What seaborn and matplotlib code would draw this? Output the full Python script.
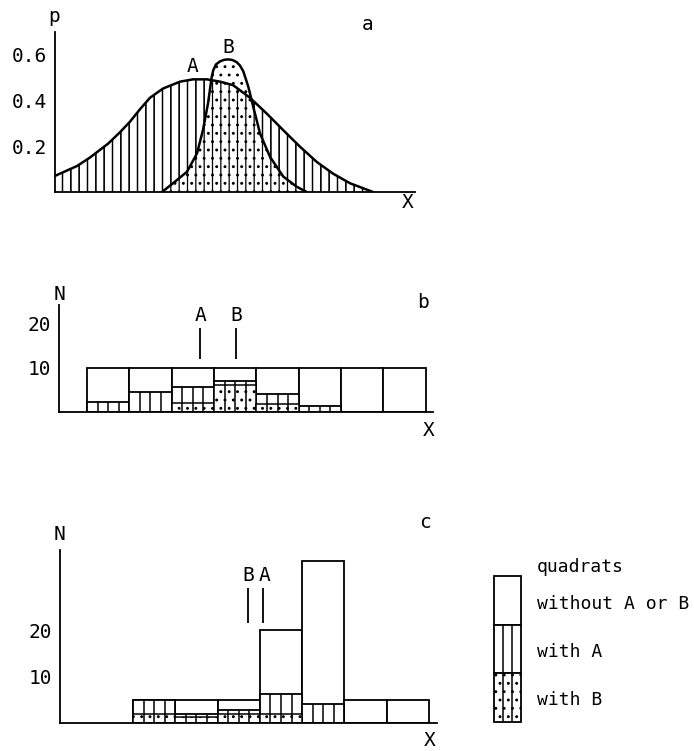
import matplotlib
matplotlib.use("Agg")
import matplotlib.pyplot as plt
import seaborn as sns
import numpy as np

# ---------------- data ----------------
# panel a: probability curves (x in axis units, p)
xA = [0, 22, 35, 53, 65, 75, 85, 95, 108, 125, 138, 152, 165, 178, 195, 212, 228, 245, 262, 278, 295, 315, 318]
pA = [0.07, 0.113, 0.15, 0.21, 0.26, 0.306, 0.36, 0.41, 0.45, 0.48, 0.49, 0.49, 0.48, 0.465, 0.41, 0.34, 0.27,
      0.197, 0.13, 0.08, 0.038, 0.005, 0.0]
xB = [107, 118, 132, 142, 148, 153, 156.7, 158.3, 161, 165, 169, 173.3, 177.5, 181.7, 185, 188.3, 193.3, 198.3,
      205, 215, 228.3, 241.7, 251.7]
pB = [0.0, 0.038, 0.088, 0.168, 0.27, 0.385, 0.50, 0.53, 0.555, 0.568, 0.575, 0.577, 0.574, 0.565, 0.55, 0.525,
      0.458, 0.37, 0.255, 0.153, 0.067, 0.023, 0.0]
p_ticks = [0.2, 0.4, 0.6]
p_ticklabels = ["0.2", "0.4", "0.6"]

# panel b: quadrats along gradient (10 per class)
b_classes = ["1", "2", "3", "4", "5", "6", "7", "8"]
b_total = [10, 10, 10, 10, 10, 10, 10, 10]
b_withA = [2.2, 4.5, 5.6, 7.0, 4.1, 1.4, 0, 0]
b_withB = [0, 0, 2.0, 6.1, 1.8, 0, 0, 0]
b_meanA, b_meanB = 2.18, 3.03

# panel c: unequal sampling
c_classes = ["1", "2", "3", "4", "5", "6", "7"]
c_total = [5, 5, 5, 20, 35, 5, 5]
c_withA = [5, 1.8, 2.8, 6.1, 4.0, 0, 0]
c_withB = [1.8, 1.2, 1.8, 1.8, 0, 0, 0]
c_meanB, c_meanA = 2.23, 2.57

N_ticks = [10, 20]
N_ticklabels = ["10", "20"]

legend_title = "quadrats"
legend_labels = ["without A or B", "with A", "with B"]

# ---------------- style ----------------
sns.set_theme(style="white")
plt.rcParams["font.family"] = ["DejaVu Sans Mono", "DejaVu Sans"]
plt.rcParams["hatch.linewidth"] = 0.9
plt.rcParams["hatch.color"] = "black"
for k in ["text.color", "axes.labelcolor", "xtick.color", "ytick.color", "axes.edgecolor"]:
    plt.rcParams[k] = "black"

W, H = 694, 751
fig = plt.figure(figsize=(W / 100, H / 100), dpi=100)
fig.patch.set_facecolor("white")


def add_ax(left, right, top, bottom):
    return fig.add_axes([left / W, 1 - bottom / H, (right - left) / W, (bottom - top) / H])


def ftext(x, y, s, size=14, ha="center"):
    fig.text(x / W, 1 - y / H, s, ha=ha, va="center", fontsize=size, color="black")


def style_axis(ax):
    for s in ["top", "right"]:
        ax.spines[s].set_visible(False)
    for s in ["left", "bottom"]:
        ax.spines[s].set_color("black")
        ax.spines[s].set_linewidth(1.3)
    ax.set_facecolor("white")
    ax.tick_params(axis="y", direction="out", length=4, width=1.2, pad=2, labelsize=14,
                   colors="black", labelcolor="black")
    ax.set_xticks([])
    ax.set_xlabel("")
    ax.set_ylabel("")


# ---------------- panel a ----------------
axa = add_ax(55, 415, 32, 192)
axa.fill_between(xA, pA, facecolor="none", edgecolor="black", hatch="||", linewidth=0)
axa.fill_between(xB, pB, facecolor="white", edgecolor="black", hatch="..", linewidth=0)
axa.fill_between(xA, pA, facecolor="none", edgecolor="black", hatch="||", linewidth=0)
sns.lineplot(x=xA, y=pA, color="black", linewidth=1.8, ax=axa)
sns.lineplot(x=xB, y=pB, color="black", linewidth=1.8, ax=axa)
axa.set_xlim(0, 360)
axa.set_ylim(0, 0.696)
style_axis(axa)
axa.set_yticks(p_ticks)
axa.set_yticklabels(p_ticklabels)
axa.text(138, 0.545, "A", ha="center", va="center", fontsize=14, color="black")
axa.text(173, 0.63, "B", ha="center", va="center", fontsize=14, color="black")
ftext(54, 16, "p")
ftext(368, 25, "a")
ftext(408, 202, "X")


# ---------------- bar panels ----------------
def bar_panel(ax, classes, total, withA, withB):
    sns.barplot(x=classes, y=total, color="white", edgecolor="black", linewidth=1.3,
                width=1, errorbar=None, saturation=1, ax=ax)
    sns.barplot(x=classes, y=withA, color="white", edgecolor="black", linewidth=1.3,
                width=1, errorbar=None, saturation=1, ax=ax)
    sns.barplot(x=classes, y=withB, color="white", edgecolor="black", linewidth=1.1,
                width=1, errorbar=None, saturation=1, hatch="..", ax=ax)
    for i, a in enumerate(withA):
        if a > 0:
            for k in (1, 2, 3):
                ax.vlines(i - 0.5 + k / 4, 0, a, color="black", linewidth=1.1)


# panel b
axb = add_ax(59, 433, 305, 412)
bar_panel(axb, b_classes, b_total, b_withA, b_withB)
axb.set_xlim(-1.16, 7.67)
axb.set_ylim(0, 24.3)
style_axis(axb)
axb.set_yticks(N_ticks)
axb.set_yticklabels(N_ticklabels)
axb.vlines([b_meanA, b_meanB], 12.0, 19.1, color="black", linewidth=1.3)
axb.text(b_meanA, 21.9, "A", ha="center", va="center", fontsize=14, color="black")
axb.text(b_meanB, 21.9, "B", ha="center", va="center", fontsize=14, color="black")
ftext(59, 294, "N")
ftext(423, 303, "b")
ftext(429, 431, "X")

# panel c
axc = add_ax(60, 437, 550, 722.7)
bar_panel(axc, c_classes, c_total, c_withA, c_withB)
axc.set_xlim(-2.226, 6.69)
axc.set_ylim(0, 37.3)
style_axis(axc)
axc.set_yticks(N_ticks)
axc.set_yticklabels(N_ticklabels)
axc.vlines([c_meanB, c_meanA], 21.5, 29.1, color="black", linewidth=1.3)
axc.text(c_meanB, 31.7, "B", ha="center", va="center", fontsize=14, color="black")
axc.text(c_meanA + 0.03, 31.7, "A", ha="center", va="center", fontsize=14, color="black")
ftext(59, 535, "N")
ftext(425, 523, "c")
ftext(430, 740, "X")

# ---------------- legend ----------------
axl = add_ax(494, 521, 576, 722)
axl.bar([0.5], [1], bottom=[2], width=1, color="white", edgecolor="black", linewidth=1.3)
axl.bar([0.5], [1], bottom=[1], width=1, color="white", edgecolor="black", linewidth=1.3)
axl.bar([0.5], [1], bottom=[0], width=1, color="white", edgecolor="black", linewidth=1.3, hatch="..")
axl.vlines([1 / 3, 2 / 3], 0, 2, color="black", linewidth=1.1)
axl.set_xlim(0, 1)
axl.set_ylim(0, 3)
axl.axis("off")
for p in axl.patches:
    p.set_clip_on(False)

ftext(537, 567, legend_title, size=13, ha="left")
ftext(537, 604, legend_labels[0], size=13, ha="left")
ftext(537, 652, legend_labels[1], size=13, ha="left")
ftext(537, 700, legend_labels[2], size=13, ha="left")

fig.savefig("out.png", dpi=100, facecolor="white")
